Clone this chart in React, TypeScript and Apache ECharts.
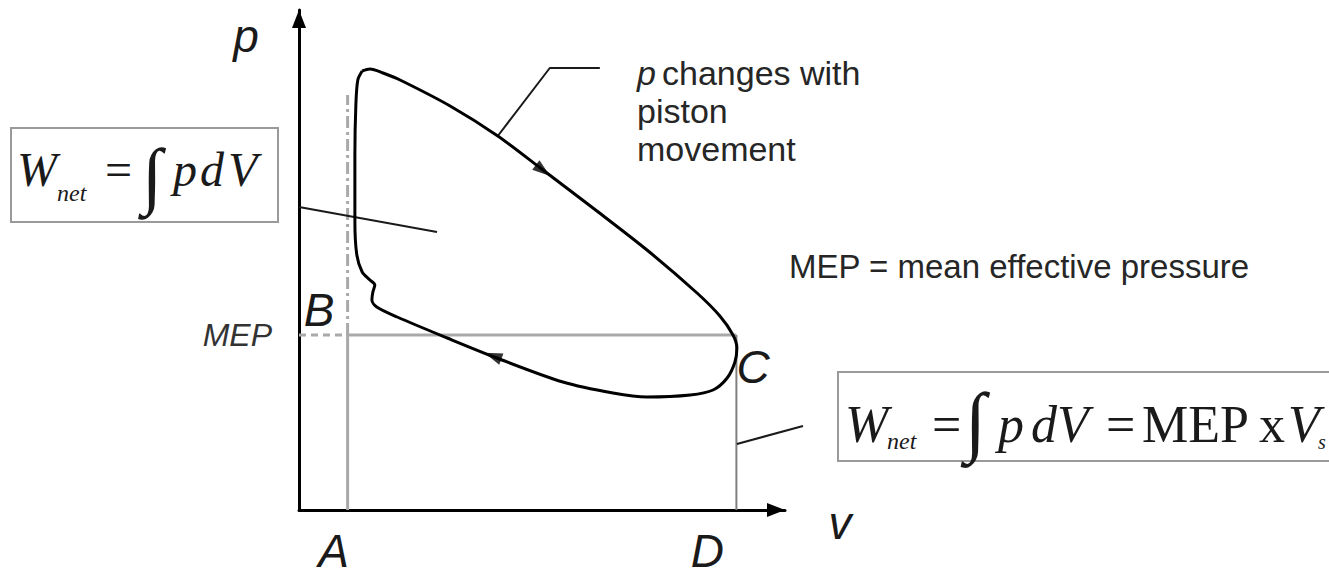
import React, { useEffect, useRef } from "react";
import * as echarts from "echarts";

// p-V indicator loop (V: swept-volume units, p: pressure units)
const LOOP_V = [1.30, 1.46, 1.73, 2.08, 3.11, 4.09, 5.02, 6.13, 7.16, 8.19, 8.66, 8.93, 9.01, 8.97, 8.81, 8.52, 8.05, 7.16, 6.46, 5.43, 4.07, 3.05, 2.02, 1.60, 1.50, 1.52, 1.56, 1.46, 1.30, 1.19, 1.15, 1.15, 1.17, 1.21, 1.30];
const LOOP_P = [8.78, 8.82, 8.74, 8.60, 8.08, 7.48, 6.80, 5.98, 5.20, 4.34, 3.88, 3.50, 3.24, 2.96, 2.64, 2.40, 2.30, 2.26, 2.34, 2.56, 3.04, 3.44, 3.86, 4.06, 4.20, 4.36, 4.50, 4.60, 4.76, 5.10, 5.76, 7.10, 8.10, 8.60, 8.78];

// direction arrows on the loop: [V, p, rotation]
const ARROWS = [
  [5.02, 6.79, -127.2],
  [3.99, 3.08, 69.2],
];

const V_A = 1;
const V_D = 9;
const MEP = 3.5;
const DASH_TOP = 8.3;

const V_TICK_LABELS: Record<number, string> = { 1: "A", 9: "D" };
const P_TICK_LABELS: Record<string, string> = { "3.5": "MEP" };

// leader lines
const LEADER_TOP = [[4.09, 7.48], [5.16, 8.84], [6.19, 8.84]];
const LEADER_LEFT = [[0, 6.06], [2.84, 5.56]];
const LEADER_RIGHT = [[9.01, 1.32], [10.37, 1.68]];

const SANS = '"Liberation Sans", Arial, sans-serif';
const SERIF = '"Liberation Serif", "Times New Roman", serif';

function txt(text: string, x: number, y: number, font: string, align = "left", fill = "#1a1a1a") {
  return {
    type: "text",
    x,
    y,
    z: 20,
    style: {
      text,
      font,
      fill,
      align,
      textAlign: align,
      verticalAlign: "middle",
      textVerticalAlign: "middle",
    },
  };
}

export default function App() {
  const ref = useRef<HTMLDivElement>(null);
  useEffect(() => {
    if (!ref.current) return;
    const chart = echarts.init(ref.current, null, { renderer: "svg" });
    const loopData = LOOP_V.map((v, i) => [v, LOOP_P[i]]);
    const grayLine = (data: number[][], type: any, color = "#a9a9a9", width = 3) => ({
      type: "line",
      data,
      showSymbol: false,
      symbol: "none",
      silent: true,
      z: 2,
      lineStyle: { color, width, type },
    });
    const blackLine = (data: number[][], width = 2, color = "#1a1a1a") => ({
      type: "line",
      data,
      showSymbol: false,
      symbol: "none",
      silent: true,
      clip: false,
      z: 3,
      lineStyle: { color, width },
    });

    const graphics: any[] = [
      // axis names and point labels
      txt("p", 246, 36, `italic 46px ${SANS}`, "center"),
      txt("v", 840, 523, `italic 46px ${SANS}`, "center"),
      txt("B", 319, 310, `italic 46px ${SANS}`, "center"),
      txt("C", 753, 367, `italic 46px ${SANS}`, "center"),
      // explanatory text
      txt("p", 637, 73, `italic 34px ${SANS}`, "left", "#262626"),
      txt("changes with", 662, 73, `34px ${SANS}`, "left", "#262626"),
      txt("piston", 637, 111, `34px ${SANS}`, "left", "#262626"),
      txt("movement", 637, 149, `34px ${SANS}`, "left", "#262626"),
      txt("MEP = mean effective pressure", 789, 266, `33px ${SANS}`, "left", "#262626"),
      // formula box 1
      {
        type: "rect",
        z: 10,
        shape: { x: 11, y: 128, width: 267, height: 94 },
        style: { fill: "#ffffff", stroke: "#9a9a9a", lineWidth: 2 },
      },
      txt("W", 17, 169, `italic 48px ${SERIF}`),
      txt("net", 57, 193, `italic 24px ${SERIF}`),
      txt("=", 105, 169, `48px ${SERIF}`),
      txt("\u222B", 142, 175, `74px ${SERIF}`),
      txt("p", 173, 169, `italic 48px ${SERIF}`),
      txt("d", 200, 169, `italic 48px ${SERIF}`),
      txt("V", 228, 169, `italic 48px ${SERIF}`),
      // formula box 2
      {
        type: "rect",
        z: 10,
        shape: { x: 838, y: 372, width: 520, height: 89 },
        style: { fill: "#ffffff", stroke: "#9a9a9a", lineWidth: 2 },
      },
      txt("W", 845, 424, `italic 52px ${SERIF}`),
      txt("net", 887, 441, `italic 24px ${SERIF}`),
      txt("=", 932, 424, `52px ${SERIF}`),
      txt("\u222B", 965, 420, `78px ${SERIF}`),
      txt("p", 998, 424, `italic 52px ${SERIF}`),
      txt("d", 1031, 424, `italic 52px ${SERIF}`),
      txt("V", 1057, 424, `italic 52px ${SERIF}`),
      txt("=", 1106, 424, `52px ${SERIF}`),
      txt("MEP", 1142, 424, `52px ${SERIF}`),
      txt("x", 1259, 424, `52px ${SERIF}`),
      txt("V", 1288, 424, `italic 52px ${SERIF}`),
      txt("s", 1318, 442, `italic 20px ${SERIF}`),
    ];

    const option: any = {
      animation: false,
      backgroundColor: "#ffffff",
      grid: { left: 299, top: 10, width: 486, height: 500, containLabel: false },
      xAxis: {
        type: "value",
        min: 0,
        max: 10,
        interval: 1,
        axisLine: {
          show: true,
          onZero: false,
          symbol: ["none", "triangle"],
          symbolSize: [14, 18],
          symbolOffset: [0, -9],
          lineStyle: { color: "#000", width: 3 },
        },
        axisTick: { show: false },
        splitLine: { show: false },
        axisLabel: {
          margin: 18,
          formatter: (v: number) => {
            const s = V_TICK_LABELS[Math.round(v)];
            if (Math.abs(v - Math.round(v)) > 1e-6 || !s) return "";
            return s === "A" ? "{a|A}" : "{d|D}";
          },
          rich: {
            a: { fontSize: 46, fontStyle: "italic", fontFamily: SANS, color: "#1a1a1a", padding: [0, 28, 0, 0] },
            d: { fontSize: 46, fontStyle: "italic", fontFamily: SANS, color: "#1a1a1a", padding: [0, 58, 0, 0] },
          },
        },
      },
      yAxis: {
        type: "value",
        min: 0,
        max: 10,
        interval: 0.5,
        axisLine: {
          show: true,
          onZero: false,
          symbol: ["none", "triangle"],
          symbolSize: [14, 18],
          symbolOffset: [0, -9],
          lineStyle: { color: "#000", width: 3 },
        },
        axisTick: { show: false },
        splitLine: { show: false },
        axisLabel: {
          margin: 27,
          fontSize: 32,
          fontStyle: "italic",
          fontFamily: SANS,
          color: "#333",
          formatter: (v: number) => P_TICK_LABELS[v.toFixed(1)] || "",
        },
      },
      series: [
        grayLine([[V_A, 0], [V_A, MEP]], "solid"),
        grayLine([[V_A, MEP], [V_A, DASH_TOP]], [12, 4, 3, 4]),
        grayLine([[0, MEP], [V_A, MEP]], [7, 5]),
        grayLine([[V_A, MEP], [V_D, MEP]], "solid"),
        grayLine([[V_D, 0], [V_D, MEP]], "solid", "#808080", 2),
        blackLine(LEADER_TOP),
        blackLine(LEADER_LEFT),
        {
          type: "line",
          data: loopData,
          smooth: 0.3,
          showSymbol: false,
          symbol: "none",
          silent: true,
          z: 5,
          lineStyle: { color: "#000", width: 3 },
        },
        {
          type: "scatter",
          data: ARROWS.map((a) => ({ value: [a[0], a[1]], symbolRotate: a[2] })),
          symbol: "triangle",
          symbolSize: [12, 18],
          silent: true,
          z: 6,
          itemStyle: { color: "#000" },
        },
      ],
      graphic: graphics,
    };
    chart.setOption(option);

    // right leader extends past the axis end: place it through the grid's own coordinate conversion
    const p1 = chart.convertToPixel({ gridIndex: 0 }, LEADER_RIGHT[0]) as number[];
    const p2 = chart.convertToPixel({ gridIndex: 0 }, LEADER_RIGHT[1]) as number[];
    chart.setOption({
      graphic: [
        ...graphics,
        {
          type: "line",
          z: 5,
          shape: { x1: p1[0], y1: p1[1], x2: p2[0], y2: p2[1] },
          style: { stroke: "#1a1a1a", lineWidth: 2 },
        },
      ],
    });
    return () => chart.dispose();
  }, []);
  return (
    <div
      ref={ref}
      style={{ position: "absolute", left: 0, top: 0, width: 1329, height: 577, background: "#fff" }}
    />
  );
}
